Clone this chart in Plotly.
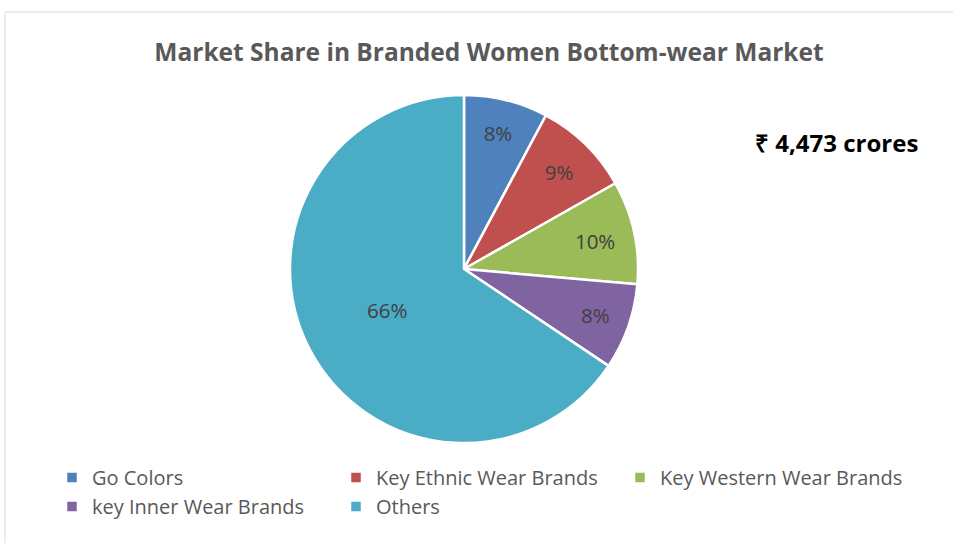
import plotly.graph_objects as go

LABELS = ["Go Colors", "Key Ethnic Wear Brands", "Key Western Wear Brands",
          "key Inner Wear Brands", "Others"]
SHARES = [7.8, 9.0, 9.6, 8.0, 65.6]
COLORS = ["#4F81BD", "#C0504D", "#9BBB59", "#8064A2", "#4BACC6"]
TOTAL = "₹ 4,473 crores"

W, H = 953, 543
cx, cy, r = 464, 269, 174
FONT = "Open Sans"

fig = go.Figure()
fig.add_trace(go.Pie(
    labels=LABELS,
    values=SHARES,
    sort=False,
    direction="clockwise",
    rotation=0,
    marker=dict(colors=COLORS, line=dict(color="white", width=2.5)),
    texttemplate="%{percent:.0%}",
    textposition="inside",
    insidetextorientation="horizontal",
    textfont=dict(family=FONT, size=20.5, color="#404040"),
    domain=dict(x=[(cx - r) / W, (cx + r) / W], y=[1 - (cy + r) / H, 1 - (cy - r) / H]),
    hoverinfo="label+percent",
))

fig.update_layout(
    width=W, height=H,
    margin=dict(l=0, r=0, t=0, b=0),
    paper_bgcolor="white",
    font=dict(family=FONT, color="#595959"),
    title=dict(text="<b>Market Share in Branded Women Bottom-wear Market</b>",
               x=489 / W, xanchor="center", y=1 - 52 / H, yanchor="middle",
               font=dict(size=24.5, color="#595959")),
    legend=dict(orientation="h", x=52 / W, xanchor="left",
                y=1 - 458 / H, yanchor="top",
                entrywidth=239, entrywidthmode="pixels",
                font=dict(size=20, color="#595959"), traceorder="normal"),
    annotations=[dict(text=f"<b>{TOTAL}</b>", x=836 / W, y=1 - 142 / H,
                      xref="paper", yref="paper", xanchor="center", yanchor="middle",
                      showarrow=False, font=dict(size=24, color="black"))],
    shapes=[dict(type="rect", xref="paper", yref="paper",
                 x0=5 / W, x1=1.01, y0=-0.01, y1=1 - 12 / H,
                 line=dict(color="#D9D9D9", width=1))],
)

fig.write_html("out.html", config={"displayModeBar": False},
               post_script="document.body.style.margin='0';")
